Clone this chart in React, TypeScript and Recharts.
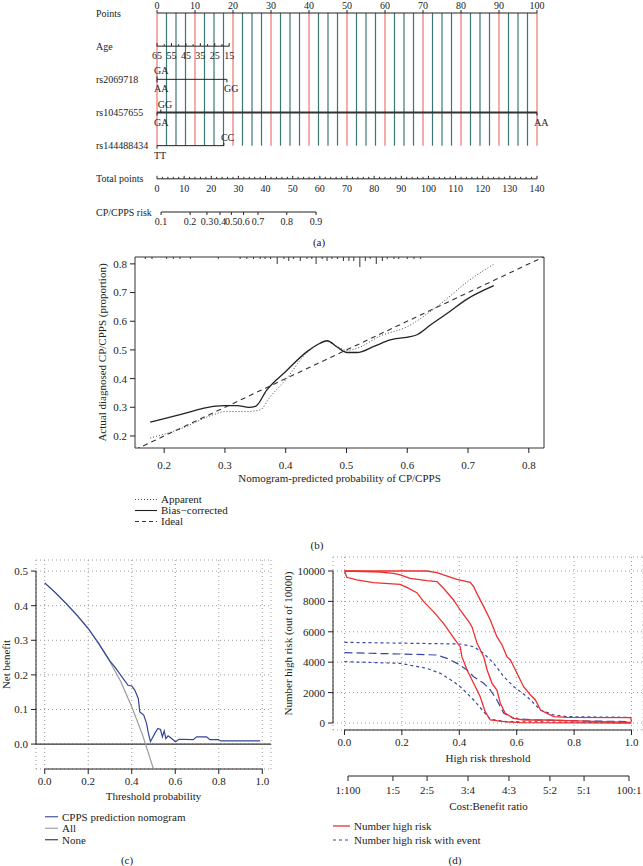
import React from 'react';
import { ComposedChart, Line, XAxis, YAxis, ReferenceLine, ReferenceArea, CartesianGrid, Scatter } from 'recharts';

const FONT = '"Liberation Serif", "Times New Roman", serif';
const INK = '#222';

// ---------- (a) nomogram ----------
const rowNames = ['Points', 'Age', 'rs2069718', 'rs10457655', 'rs144488434', 'Total points', 'CP/CPPS risk'];
const pointsTicks = [0, 10, 20, 30, 40, 50, 60, 70, 80, 90, 100];
const ageLabels = ['65', '55', '45', '35', '25', '15'];
const agePoints = [0, 3.8, 7.6, 11.4, 15.2, 19];
const ageMinorPoints = [1.9, 5.7, 9.5, 13.3, 17.1];
const rs2069718Levels = ['GA', 'AA', 'GG'];
const rs2069718Points = [0, 0, 18.4];
const rs2069718Side = ['above', 'below', 'below'];
const rs10457655Levels = ['GA', 'GG', 'AA'];
const rs10457655Points = [0, 1, 100];
const rs10457655Side = ['below', 'above', 'below'];
const rs144488434Levels = ['TT', 'CC'];
const rs144488434Points = [0, 17.6];
const rs144488434Side = ['below', 'above'];
const totalTicks = [0, 10, 20, 30, 40, 50, 60, 70, 80, 90, 100, 110, 120, 130, 140];
const riskLabels = ['0.1', '0.2', '0.3', '0.4', '0.5', '0.6', '0.7', '0.8', '0.9'];
const riskTotalPoints = [1.5, 12.2, 18.4, 23.2, 27.4, 31.9, 37.2, 47.8, 58.6];

// ---------- (b) calibration ----------
const apparentX = [0.177, 0.226, 0.281, 0.3, 0.336, 0.358, 0.375, 0.4, 0.435, 0.468, 0.4845, 0.501, 0.5175, 0.556, 0.601, 0.638, 0.666, 0.699, 0.7425];
const apparentY = [0.193, 0.224, 0.274, 0.285, 0.285, 0.291, 0.338, 0.396, 0.491, 0.529, 0.512, 0.498, 0.506, 0.549, 0.582, 0.634, 0.68, 0.738, 0.799];
const biasX = [0.177, 0.226, 0.281, 0.3, 0.32, 0.339, 0.35, 0.369, 0.4, 0.435, 0.452, 0.468, 0.4845, 0.501, 0.5175, 0.545, 0.572, 0.601, 0.616, 0.638, 0.666, 0.699, 0.7425];
const biasY = [0.248, 0.274, 0.303, 0.306, 0.306, 0.3, 0.303, 0.361, 0.425, 0.494, 0.518, 0.532, 0.51, 0.491, 0.491, 0.512, 0.535, 0.545, 0.553, 0.587, 0.628, 0.678, 0.724];
const idealX = [0.152, 0.825];
const rugX = [0.169, 0.18, 0.204, 0.215, 0.226, 0.243, 0.289, 0.325, 0.336, 0.347, 0.358, 0.366, 0.375, 0.386, 0.397, 0.405, 0.413, 0.424, 0.435, 0.443, 0.45, 0.46, 0.468, 0.476, 0.485, 0.495, 0.504, 0.512, 0.522, 0.531, 0.539, 0.549, 0.559, 0.567, 0.578, 0.586, 0.6, 0.611, 0.622];
const rugN = [1, 1, 1, 1, 1, 1, 1, 1, 1, 1, 1, 1, 1, 3, 1, 2, 1, 2, 1, 1, 3, 1, 2, 1, 1, 2, 2, 2, 4, 2, 1, 3, 2, 1, 1, 1, 1, 1, 1];
const calTicks = [0.2, 0.3, 0.4, 0.5, 0.6, 0.7, 0.8];

// ---------- (c) decision curve ----------
const allX = [0, 0.05, 0.1, 0.15, 0.2, 0.25, 0.3, 0.35, 0.4, 0.45, 0.5];
const allY = [0.466, 0.437, 0.405, 0.371, 0.334, 0.289, 0.238, 0.18, 0.108, 0.026, -0.072];
const cppsX = [0, 0.05, 0.1, 0.15, 0.2, 0.25, 0.3, 0.322, 0.36, 0.383, 0.4, 0.414, 0.43, 0.437, 0.455, 0.468, 0.475, 0.486, 0.506, 0.52, 0.532, 0.541, 0.549, 0.557, 0.567, 0.583, 0.601, 0.617, 0.683, 0.698, 0.744, 0.759, 0.798, 0.81, 0.99];
const cppsY = [0.466, 0.437, 0.405, 0.371, 0.334, 0.289, 0.24, 0.223, 0.19, 0.17, 0.168, 0.156, 0.132, 0.093, 0.084, 0.06, 0.036, 0.007, 0.031, 0.045, 0.042, 0.021, 0.038, 0.016, 0.024, 0.016, 0.007, 0.014, 0.013, 0.021, 0.021, 0.013, 0.013, 0.009, 0.009];
const dcaXTicks = [0, 0.2, 0.4, 0.6, 0.8, 1.0];
const dcaYTicks = [0, 0.1, 0.2, 0.3, 0.4, 0.5];

// ---------- (d) clinical impact ----------
const red1X = [0, 0.287, 0.322, 0.345, 0.392, 0.438, 0.45, 0.467, 0.485, 0.508, 0.531, 0.549, 0.566, 0.578, 0.59, 0.607, 0.624, 0.648, 0.665, 0.683, 0.706, 0.729, 0.776, 0.997, 1.0];
const red1Y = [10000, 10000, 9890, 9737, 9452, 9254, 8969, 8311, 7654, 6776, 5680, 5132, 4364, 4145, 3706, 3048, 2390, 1842, 1513, 855, 636, 417, 373, 351, 88];
const red2X = [0, 0.124, 0.171, 0.194, 0.229, 0.287, 0.322, 0.345, 0.38, 0.403, 0.433, 0.444, 0.462, 0.485, 0.497, 0.514, 0.531, 0.543, 0.56, 0.59, 0.624, 0.717, 0.776, 0.892, 0.997];
const red2Y = [10000, 9934, 9846, 9737, 9518, 9364, 9298, 8860, 8092, 7434, 6667, 6338, 5241, 4364, 3487, 2610, 2171, 1294, 636, 307, 197, 197, 154, 88, 44];
const red3X = [0, 0.008, 0.043, 0.101, 0.194, 0.217, 0.252, 0.276, 0.31, 0.345, 0.386, 0.403, 0.409, 0.427, 0.45, 0.473, 0.49, 0.508, 0.555, 0.613, 1.0];
const red3Y = [10000, 9583, 9408, 9232, 9122, 8925, 8575, 7982, 7325, 6557, 5460, 5022, 4364, 3487, 2610, 1732, 746, 197, 88, 22, 0];
const blue1X = [0, 0.403, 0.45, 0.485, 0.52, 0.555, 0.59, 0.636, 0.683, 0.729, 0.776, 0.997];
const blue1Y = [5307, 5197, 5022, 4583, 3925, 3048, 2390, 1732, 855, 526, 417, 373];
const blue2X = [0, 0.194, 0.322, 0.357, 0.392, 0.427, 0.45, 0.485, 0.508, 0.531, 0.555, 0.59, 0.66, 0.997];
const blue2Y = [4627, 4539, 4474, 4254, 3925, 3487, 3048, 2610, 2171, 1513, 636, 307, 197, 88];
const blue3X = [0, 0.194, 0.287, 0.334, 0.38, 0.403, 0.427, 0.45, 0.485, 0.508, 0.566, 0.997];
const blue3Y = [4035, 3925, 3596, 3268, 2719, 2390, 1952, 1513, 746, 241, 88, 22];
const cicXTicks = [0, 0.2, 0.4, 0.6, 0.8, 1.0];
const cicYTicks = [0, 2000, 4000, 6000, 8000, 10000];
const cbLabels = ['1:100', '1:5', '2:5', '3:4', '4:3', '5:2', '5:1', '100:1'];
const cbThresholds = [0.0099, 0.1667, 0.2857, 0.4286, 0.5714, 0.7143, 0.8333, 0.9901];

const zip = (xs: number[], ys: number[]) => xs.map((x, i) => ({ x, y: ys[i] }));
const tickStyle = { fontSize: 11, fill: INK };

type RowPt = { x: number; y: number; lab?: string; tick?: number; dir?: 'up' | 'down'; side?: string; anchor?: 'start' | 'middle' };

const renderRowDot = (p: any) => {
  const { cx, cy, payload, index } = p;
  const d: RowPt = payload;
  const t = d.tick || 0;
  const down = d.dir === 'down';
  const anchor = d.anchor || 'middle';
  return (
    <g key={`rd-${index}`}>
      {t > 0 && <line x1={cx} x2={cx} y1={cy} y2={down ? cy + t : cy - t} stroke={INK} strokeWidth={1} />}
      {d.lab && (
        <text x={anchor === 'start' ? cx - 3 : cx} y={d.side === 'above' ? cy - 5 : cy + 13} textAnchor={anchor} fontSize={10} fill={INK}>
          {d.lab}
        </text>
      )}
    </g>
  );
};

const renderRowName = (p: any) => (
  <text key={`rn-${p.index}`} x={p.x} y={p.y} dy={3.5} textAnchor="start" fontSize={10} fill={INK}>
    {rowNames[p.payload.value]}
  </text>
);

function Nomogram() {
  const grid: number[] = [];
  for (let v = 0; v <= 100; v += 2.5) grid.push(v);
  const ageRow: RowPt[] = [
    ...agePoints.map((x, i) => ({ x, y: 1, lab: ageLabels[i], tick: 3, side: 'below' })),
    ...ageMinorPoints.map((x) => ({ x, y: 1, tick: 2 })),
  ].sort((a, b) => a.x - b.x);
  const lv = (levels: string[], pts: number[], side: string[], row: number): RowPt[] =>
    levels.map((l, i) => ({ x: pts[i], y: row, lab: l, side: side[i], anchor: 'start' as const, tick: 3, dir: side[i] === 'above' ? 'up' as const : 'down' as const }))
      .sort((a, b) => a.x - b.x);
  const row2 = lv(rs2069718Levels, rs2069718Points, rs2069718Side, 2);
  const row3 = lv(rs10457655Levels, rs10457655Points, rs10457655Side, 3);
  const row4 = lv(rs144488434Levels, rs144488434Points, rs144488434Side, 4);
  const totalRow: RowPt[] = [];
  for (let v = 0; v <= 140; v += 2) {
    const major = totalTicks.includes(v);
    totalRow.push({ x: v, y: 5, tick: major ? 3 : 2, lab: major ? String(v) : undefined, side: 'below' });
  }
  const riskRow: RowPt[] = riskTotalPoints.map((x, i) => ({ x, y: 6, lab: riskLabels[i], tick: 3, dir: 'down', side: 'below' }));

  return (
    <ComposedChart width={643} height={240} margin={{ top: 0, right: 106, bottom: 28, left: 96 }}>
      <XAxis xAxisId="pts" dataKey="x" type="number" orientation="top" domain={[0, 100]} ticks={pointsTicks} height={13}
        tickSize={3} tickMargin={1} interval={0} tick={{ fontSize: 10, fill: INK }} axisLine={{ stroke: INK }} tickLine={{ stroke: INK }} />
      <XAxis xAxisId="tot" dataKey="x" type="number" domain={[0, 140]} hide />
      <YAxis type="number" domain={[0, 6]} reversed ticks={[0, 1, 2, 3, 4, 5, 6]} interval={0} width={61}
        axisLine={false} tickLine={false} tickSize={0} tickMargin={61} tick={renderRowName} />
      {grid.map((v) => (
        <ReferenceLine key={`g${v}`} xAxisId="pts" segment={[{ x: v, y: 0 }, { x: v, y: 4 }]}
          stroke={v % 10 === 0 ? '#f07272' : '#3a7772'} strokeWidth={1.2} ifOverflow="visible" />
      ))}
      <Line xAxisId="pts" data={ageRow} dataKey="y" stroke={INK} strokeWidth={1} dot={renderRowDot} activeDot={false} isAnimationActive={false} />
      <Line xAxisId="pts" data={row2} dataKey="y" stroke={INK} strokeWidth={1} dot={renderRowDot} activeDot={false} isAnimationActive={false} />
      <Line xAxisId="pts" data={row3} dataKey="y" stroke="#333" strokeWidth={2} dot={renderRowDot} activeDot={false} isAnimationActive={false} />
      <Line xAxisId="pts" data={row4} dataKey="y" stroke={INK} strokeWidth={1} dot={renderRowDot} activeDot={false} isAnimationActive={false} />
      <Line xAxisId="tot" data={totalRow} dataKey="y" stroke={INK} strokeWidth={1} dot={renderRowDot} activeDot={false} isAnimationActive={false} />
      <Line xAxisId="tot" data={riskRow} dataKey="y" stroke={INK} strokeWidth={1} dot={renderRowDot} activeDot={false} isAnimationActive={false} />
    </ComposedChart>
  );
}

function Calibration() {
  const rug = rugX.map((x, i) => ({ x, y: 0.824, n: rugN[i] }));
  const lens = [0, 2, 4, 7, 10];
  return (
    <ComposedChart width={643} height={245} margin={{ top: 12, right: 99, bottom: 0, left: 69 }}>
      <XAxis dataKey="x" type="number" domain={[0.152, 0.825]} allowDataOverflow ticks={calTicks} interval={0}
        tickFormatter={(v: number) => v.toFixed(1)} height={42} axisLine={false} tickLine={{ stroke: INK }} tickSize={5} tickMargin={8} tick={tickStyle}
        label={{ value: 'Nomogram-predicted probability of CP/CPPS', position: 'insideBottom', offset: 8, fontSize: 11, fill: INK }} />
      <YAxis type="number" domain={[0.158, 0.824]} allowDataOverflow ticks={calTicks} interval={0}
        tickFormatter={(v: number) => v.toFixed(1)} width={66} axisLine={false} tickLine={{ stroke: INK }} tickSize={5} tickMargin={3} tick={tickStyle}
        label={{ value: 'Actual diagnosed CP/CPPS (proportion)', angle: -90, position: 'center', fontSize: 11, fill: INK }} />
      <ReferenceArea x1={0.152} x2={0.825} y1={0.158} y2={0.824} fill="none" stroke="#333" strokeWidth={1} ifOverflow="visible" />
      <Scatter data={rug} dataKey="y" isAnimationActive={false}
        shape={(p: any) => <line x1={p.cx} x2={p.cx} y1={p.cy} y2={p.cy + lens[p.payload.n]} stroke="#333" strokeWidth={1} />} />
      <Line data={zip(idealX, idealX)} dataKey="y" stroke="#333" strokeWidth={1.1} strokeDasharray="5 4" dot={false} activeDot={false} isAnimationActive={false} />
      <Line data={zip(apparentX, apparentY)} dataKey="y" type="monotone" stroke="#444" strokeWidth={1} strokeDasharray="1 2" dot={false} activeDot={false} isAnimationActive={false} />
      <Line data={zip(biasX, biasY)} dataKey="y" type="monotone" stroke="#222" strokeWidth={1.3} dot={false} activeDot={false} isAnimationActive={false} />
    </ComposedChart>
  );
}

function Decision() {
  return (
    <ComposedChart width={320} height={260} margin={{ top: 12, right: 19, bottom: 0, left: 6 }}>
      <CartesianGrid stroke="#9a9a9a" strokeDasharray="1 3" />
      <XAxis dataKey="x" type="number" domain={[-0.04, 1.04]} allowDataOverflow ticks={dcaXTicks} interval={0}
        tickFormatter={(v: number) => v.toFixed(1)} height={39} axisLine={false} tickLine={{ stroke: INK }} tickSize={5} tickMargin={3} tick={tickStyle}
        label={{ value: 'Threshold probability', position: 'insideBottom', offset: 8, fontSize: 11, fill: INK }} />
      <YAxis type="number" domain={[-0.072, 0.532]} allowDataOverflow ticks={dcaYTicks} interval={0}
        tickFormatter={(v: number) => v.toFixed(1)} width={60} axisLine={false} tickLine={{ stroke: INK }} tickSize={5} tickMargin={3} tick={tickStyle}
        label={{ value: 'Net benefit', angle: -90, position: 'center', fontSize: 11, fill: INK }} />
      <ReferenceLine segment={[{ x: 0, y: -0.072 }, { x: 1, y: -0.072 }]} stroke={INK} ifOverflow="visible" />
      <ReferenceLine segment={[{ x: -0.04, y: 0 }, { x: -0.04, y: 0.5 }]} stroke={INK} ifOverflow="visible" />
      <ReferenceLine y={0} stroke="#333" strokeWidth={1.1} />
      <Line data={zip(allX, allY)} dataKey="y" stroke="#9a9a9a" strokeWidth={1.2} dot={false} activeDot={false} isAnimationActive={false} />
      <Line data={zip(cppsX, cppsY)} dataKey="y" stroke="#34449a" strokeWidth={1.2} dot={false} activeDot={false} isAnimationActive={false} />
    </ComposedChart>
  );
}

function Impact() {
  const red = '#ee2f2f';
  const blue = '#3848a2';
  return (
    <ComposedChart width={403} height={220} margin={{ top: 9, right: 0, bottom: 0, left: 3 }}>
      <CartesianGrid stroke="#9a9a9a" strokeDasharray="1 3" />
      <XAxis dataKey="x" type="number" domain={[-0.04, 1.04]} allowDataOverflow ticks={cicXTicks} interval={0}
        tickFormatter={(v: number) => v.toFixed(1)} height={38} axisLine={false} tickLine={{ stroke: INK }} tickSize={5} tickMargin={3} tick={tickStyle}
        label={{ value: 'High risk threshold', position: 'insideBottom', offset: 6, fontSize: 11, fill: INK }} />
      <YAxis type="number" domain={[-460, 10920]} allowDataOverflow ticks={cicYTicks} interval={0}
        width={90} axisLine={false} tickLine={{ stroke: INK }} tickSize={5} tickMargin={3} tick={tickStyle}
        label={{ value: 'Number high risk (out of 10000)', angle: -90, position: 'center', fontSize: 11, fill: INK }} />
      <ReferenceLine segment={[{ x: 0, y: -460 }, { x: 1, y: -460 }]} stroke={INK} ifOverflow="visible" />
      <ReferenceLine segment={[{ x: -0.04, y: 0 }, { x: -0.04, y: 10000 }]} stroke={INK} ifOverflow="visible" />
      <Line data={zip(blue1X, blue1Y)} dataKey="y" stroke={blue} strokeWidth={1.2} strokeDasharray="3 3" dot={false} activeDot={false} isAnimationActive={false} />
      <Line data={zip(blue2X, blue2Y)} dataKey="y" stroke={blue} strokeWidth={1.2} strokeDasharray="8 4" dot={false} activeDot={false} isAnimationActive={false} />
      <Line data={zip(blue3X, blue3Y)} dataKey="y" stroke={blue} strokeWidth={1.2} strokeDasharray="3 3" dot={false} activeDot={false} isAnimationActive={false} />
      <Line data={zip(red1X, red1Y)} dataKey="y" stroke={red} strokeWidth={1.3} dot={false} activeDot={false} isAnimationActive={false} />
      <Line data={zip(red2X, red2Y)} dataKey="y" stroke={red} strokeWidth={1.3} dot={false} activeDot={false} isAnimationActive={false} />
      <Line data={zip(red3X, red3Y)} dataKey="y" stroke={red} strokeWidth={1.3} dot={false} activeDot={false} isAnimationActive={false} />
    </ComposedChart>
  );
}

function CostBenefitAxis() {
  const rows = cbThresholds.map((x) => ({ x, y: 0 }));
  return (
    <ComposedChart width={403} height={45} data={rows} margin={{ top: 7, right: 14, bottom: 0, left: 108 }}>
      <XAxis dataKey="x" type="number" domain={[0.0099, 0.9901]} allowDataOverflow ticks={cbThresholds} interval={0}
        tickFormatter={(v: number) => cbLabels[cbThresholds.indexOf(v)]} height={37} axisLine={{ stroke: INK }} tickLine={{ stroke: INK }}
        tickSize={5} tickMargin={5} tick={tickStyle}
        label={{ value: 'Cost:Benefit ratio', position: 'insideBottom', offset: 3, fontSize: 11, fill: INK }} />
      <YAxis hide domain={[0, 1]} type="number" />
    </ComposedChart>
  );
}

type LegItem = { label: string; color: string; dash?: string; width?: number };
function LegendBox({ left, top, lineLen, gap, rowH, items, fontSize }: { left: number; top: number; lineLen: number; gap: number; rowH: number; items: LegItem[]; fontSize: number }) {
  return (
    <svg style={{ position: 'absolute', left, top, overflow: 'visible' }} width={260} height={rowH * items.length}>
      {items.map((it, i) => (
        <g key={it.label}>
          <line x1={0} x2={lineLen} y1={rowH * i + rowH / 2} y2={rowH * i + rowH / 2} stroke={it.color} strokeWidth={it.width || 1.1} strokeDasharray={it.dash} />
          <text x={lineLen + gap} y={rowH * i + rowH / 2 + 3.8} fontSize={fontSize} fill={INK}>{it.label}</text>
        </g>
      ))}
    </svg>
  );
}

const calLegend: LegItem[] = [
  { label: 'Apparent', color: '#444', dash: '1 2' },
  { label: 'Bias\u2212corrected', color: '#222' },
  { label: 'Ideal', color: '#333', dash: '4 3' },
];
const dcaLegend: LegItem[] = [
  { label: 'CPPS prediction nomogram', color: '#34449a' },
  { label: 'All', color: '#9a9a9a' },
  { label: 'None', color: '#333' },
];
const cicLegend: LegItem[] = [
  { label: 'Number high risk', color: '#ee2f2f', width: 1.3 },
  { label: 'Number high risk with event', color: '#3848a2', dash: '3 3', width: 1.2 },
];

function PanelLabel({ cx, cy, text }: { cx: number; cy: number; text: string }) {
  return (
    <div style={{ position: 'absolute', left: cx - 20, top: cy - 7, width: 40, textAlign: 'center', fontSize: 11, lineHeight: '14px', color: INK }}>{text}</div>
  );
}

export default function App() {
  return (
    <div style={{ position: 'absolute', left: 0, top: 0, width: 643, height: 866, background: '#fff', fontFamily: FONT, color: INK, overflow: 'hidden' }}>
      <div style={{ position: 'absolute', left: 0, top: 0 }}><Nomogram /></div>
      <PanelLabel cx={319} cy={242} text="(a)" />
      <div style={{ position: 'absolute', left: 0, top: 245 }}><Calibration /></div>
      <LegendBox left={135} top={494} lineLen={22} gap={4} rowH={11} items={calLegend} fontSize={11} />
      <PanelLabel cx={317} cy={545} text="(b)" />
      <div style={{ position: 'absolute', left: -30, top: 548 }}><Decision /></div>
      <LegendBox left={45} top={811} lineLen={13} gap={4} rowH={11.5} items={dcaLegend} fontSize={11} />
      <PanelLabel cx={127} cy={860} text="(c)" />
      <div style={{ position: 'absolute', left: 240, top: 548 }}><Impact /></div>
      <div style={{ position: 'absolute', left: 240, top: 768 }}><CostBenefitAxis /></div>
      <LegendBox left={333} top={819} lineLen={17} gap={4} rowH={14} items={cicLegend} fontSize={11} />
      <PanelLabel cx={455} cy={860} text="(d)" />
    </div>
  );
}
